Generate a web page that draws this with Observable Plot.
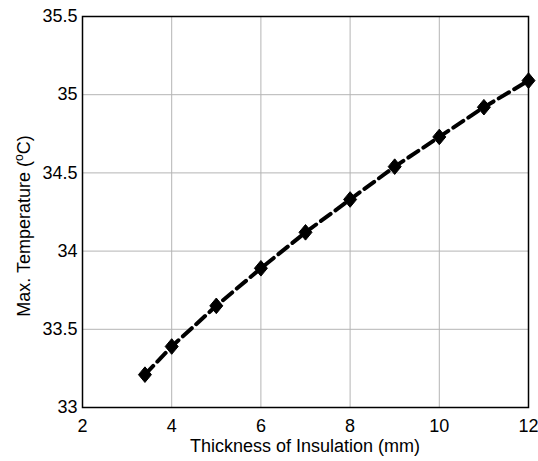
<!DOCTYPE html>
<html>
<head>
<meta charset="utf-8">
<script src="https://cdn.jsdelivr.net/npm/d3@7"></script>
<script src="https://cdn.jsdelivr.net/npm/@observablehq/plot@0.6"></script>
<style>
  html, body { margin: 0; padding: 0; background: #fff; }
  svg { display: block; }
</style>
</head>
<body>
<div id="chart"></div>
<script>
const thickness = [3.4, 4, 5, 6, 7, 8, 9, 10, 11, 12];
const maxTemp = [33.21, 33.39, 33.65, 33.89, 34.12, 34.33, 34.54, 34.73, 34.92, 35.09];
const xTicks = [2, 4, 6, 8, 10, 12];
const yTicks = [33, 33.5, 34, 34.5, 35, 35.5];
const xLabel = "Thickness of Insulation (mm)";
const yLabelParts = ["Max. Temperature (", "o", "C)"];

const data = thickness.map((t, i) => ({ t, v: maxTemp[i] }));

const diamond = {
  draw(context, size) {
    const r = Math.sqrt(size / Math.PI);
    context.moveTo(0, -r * 1.2);
    context.lineTo(r, 0);
    context.lineTo(0, r * 1.2);
    context.lineTo(-r, 0);
    context.closePath();
  }
};

const fontFamily = "'Liberation Sans', Arial, sans-serif";

const plot = Plot.plot({
  width: 538,
  height: 461,
  marginLeft: 82,
  marginRight: 10,
  marginTop: 16,
  marginBottom: 54,
  style: { fontFamily, fontSize: "18px", color: "#000", background: "#fff" },
  x: { type: "linear", domain: [2, 12], ticks: xTicks },
  y: { type: "linear", domain: [33, 35.5], ticks: yTicks },
  marks: [
    Plot.gridX(xTicks, { stroke: "#b4b4b4", strokeOpacity: 1, strokeWidth: 1 }),
    Plot.gridY(yTicks, { stroke: "#b4b4b4", strokeOpacity: 1, strokeWidth: 1 }),
    Plot.axisX(xTicks, { anchor: "bottom", tickSize: 0, tickPadding: 12, label: null, fontSize: 18, tickFormat: d => String(d) }),
    Plot.axisY(yTicks, { anchor: "left", tickSize: 0, tickPadding: 5, label: null, fontSize: 18, tickFormat: d => String(d) }),
    Plot.frame({ stroke: "#000", strokeWidth: 1.5 }),
    Plot.line(data, { x: "t", y: "v", stroke: "#000", strokeWidth: 4, strokeDasharray: "12,6" }),
    Plot.dot(data, { x: "t", y: "v", symbol: diamond, r: 6.5, fill: "#000", stroke: "#000", strokeWidth: 1 })
  ]
});

const svg = d3.select(plot);
svg.append("text")
  .attr("x", 305)
  .attr("y", 452)
  .attr("text-anchor", "middle")
  .attr("font-family", fontFamily)
  .attr("font-size", 18)
  .attr("fill", "#000")
  .text(xLabel);

const yl = svg.append("text")
  .attr("transform", "translate(30,226) rotate(-90)")
  .attr("text-anchor", "middle")
  .attr("font-family", fontFamily)
  .attr("font-size", 18)
  .attr("fill", "#000");
yl.append("tspan").text(yLabelParts[0]);
yl.append("tspan").attr("dy", -7).attr("font-size", 12).text(yLabelParts[1]);
yl.append("tspan").attr("dy", 7).text(yLabelParts[2]);

document.getElementById("chart").appendChild(plot);
</script>
</body>
</html>
